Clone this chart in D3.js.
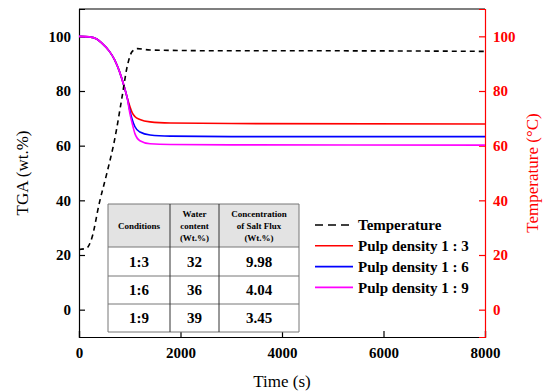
<!DOCTYPE html>
<html>
<head>
<meta charset="utf-8">
<script src="https://cdn.jsdelivr.net/npm/d3@7"></script>
<style>
  body { margin: 0; background: #fff; }
  svg { display: block; }
  svg text { font-family: "Liberation Serif", "Times New Roman", serif; }
</style>
</head>
<body>
<svg id="chart"></svg>
<script>
const width = 543, height = 392;
const margin = {top: 9, right: 58, bottom: 55, left: 79};

// temperature profile (time s, °C)
const tempTime = [0, 150, 250, 400, 550, 700, 850, 950, 1050, 1150, 1400, 3000, 5000, 8000];
const tempVal  = [22, 22.5, 26, 39, 50, 62, 78, 89, 94.5, 95.5, 95, 94.7, 94.7, 94.5];

// TGA curves (time s, wt.%)
const tgaTime = [0, 200, 350, 450, 600, 700, 800, 900, 950, 1000, 1050, 1100, 1200, 1400, 1800, 3000, 8000];
const tga13 = [100, 99.8, 99, 97.5, 94.5, 91.5, 87, 81, 77.5, 74.5, 72, 70.7, 69.6, 68.7, 68.3, 68.1, 67.9];
const tga16 = [100, 99.8, 99, 97.5, 94.5, 91.5, 87, 81, 77.5, 73, 69.5, 67, 65, 63.9, 63.5, 63.3, 63.3];
const tga19 = [100, 99.8, 99, 97.5, 94.5, 91.5, 87, 81, 77.5, 72, 68, 64.5, 61.8, 60.7, 60.4, 60.3, 60.2];

const xTicks = [0, 2000, 4000, 6000, 8000];
const yTicks = [0, 20, 40, 60, 80, 100];

const legendNames = ["Temperature", "Pulp density 1 : 3", "Pulp density 1 : 6", "Pulp density 1 : 9"];
const legendColors = ["#000000", "#ff0000", "#0000ff", "#ff00ff"];

const tableHead = [["Conditions"], ["Water", "content", "(Wt.%)"], ["Concentration", "of Salt Flux", "(Wt.%)"]];
const tableRows = [["1:3", "32", "9.98"], ["1:6", "36", "4.04"], ["1:9", "39", "3.45"]];

const svg = d3.select("#chart").attr("width", width).attr("height", height);
const iw = width - margin.left - margin.right;
const ih = height - margin.top - margin.bottom;

const x = d3.scaleLinear().domain([0, 8000]).range([margin.left, margin.left + iw]);
const y = d3.scaleLinear().domain([-10, 110]).range([margin.top + ih, margin.top]);
const yR = d3.scaleLinear().domain([-10, 110]).range([margin.top + ih, margin.top]);

// frame top line
svg.append("line")
  .attr("x1", x(0)).attr("x2", x(8000))
  .attr("y1", margin.top).attr("y2", margin.top)
  .attr("stroke", "#000").attr("stroke-width", 1.2);

// axes
const xAxis = svg.append("g")
  .attr("transform", `translate(0,${margin.top + ih})`)
  .call(d3.axisBottom(x).tickValues(xTicks).tickFormat(d3.format("d")).tickSize(-6).tickPadding(10));
const yAxis = svg.append("g")
  .attr("transform", `translate(${margin.left},0)`)
  .call(d3.axisLeft(y).tickValues(yTicks).tickSize(-6).tickPadding(8));
const yAxisR = svg.append("g")
  .attr("transform", `translate(${margin.left + iw},0)`)
  .call(d3.axisRight(yR).tickValues(yTicks).tickSize(-6).tickPadding(8));

[xAxis, yAxis].forEach(g => {
  g.selectAll("path, line").attr("stroke", "#000").attr("stroke-width", 1.2);
  g.selectAll("text").attr("font-size", 15).attr("font-weight", "bold").attr("fill", "#000");
});
yAxisR.selectAll("path, line").attr("stroke", "#ff0000").attr("stroke-width", 1.2);
yAxisR.selectAll("text").attr("font-size", 15).attr("font-weight", "bold").attr("fill", "#ff0000");

// axis titles
svg.append("text")
  .attr("transform", `translate(22,${margin.top + ih / 2}) rotate(-90)`)
  .attr("text-anchor", "middle").attr("dy", "0.35em")
  .attr("font-size", 17).text("TGA (wt.%)");
svg.append("text")
  .attr("x", margin.left + iw / 2).attr("y", 387)
  .attr("text-anchor", "middle").attr("font-size", 17).text("Time (s)");
svg.append("text")
  .attr("transform", `translate(532,${margin.top + ih / 2}) rotate(-90)`)
  .attr("text-anchor", "middle").attr("dy", "0.35em")
  .attr("font-size", 17).attr("fill", "#ff0000").text("Temperature (°C)");

// curves
const line = d3.line().x(d => x(d[0])).y(d => y(d[1])).curve(d3.curveMonotoneX);
const lineR = d3.line().x(d => x(d[0])).y(d => yR(d[1])).curve(d3.curveMonotoneX);

const series = [
  {v: tga13, c: legendColors[1]},
  {v: tga16, c: legendColors[2]},
  {v: tga19, c: legendColors[3]}
];
series.forEach(s => {
  svg.append("path")
    .datum(tgaTime.map((t, i) => [t, s.v[i]]))
    .attr("d", line).attr("fill", "none")
    .attr("stroke", s.c).attr("stroke-width", 1.6);
});

// table
const colX = [108, 170, 219, 299];
const rowY = [204, 247, 276, 304, 332];
const tbl = svg.append("g");
tbl.append("rect")
  .attr("x", colX[0]).attr("y", rowY[0])
  .attr("width", colX[3] - colX[0]).attr("height", rowY[1] - rowY[0])
  .attr("fill", "#e3e3e3");
tbl.append("rect")
  .attr("x", colX[0]).attr("y", rowY[1])
  .attr("width", colX[3] - colX[0]).attr("height", rowY[4] - rowY[1])
  .attr("fill", "#fff");
rowY.forEach(ry => {
  tbl.append("line").attr("x1", colX[0]).attr("x2", colX[3])
    .attr("y1", ry).attr("y2", ry).attr("stroke", "#777").attr("stroke-width", 1);
});
colX.forEach((cx, i) => {
  tbl.append("line").attr("x1", cx).attr("x2", cx)
    .attr("y1", rowY[0]).attr("y2", rowY[4])
    .attr("stroke", (i === 0 || i === 3) ? "#777" : "#333").attr("stroke-width", 1);
});
tableHead.forEach((lines, i) => {
  const cx = (colX[i] + colX[i + 1]) / 2;
  const cy = (rowY[0] + rowY[1]) / 2;
  lines.forEach((l, j) => {
    tbl.append("text")
      .attr("x", cx).attr("y", cy + (j - (lines.length - 1) / 2) * 12)
      .attr("dy", "0.35em").attr("text-anchor", "middle")
      .attr("font-size", 9).attr("font-weight", "bold").text(l);
  });
});
tableRows.forEach((row, r) => {
  row.forEach((cell, i) => {
    tbl.append("text")
      .attr("x", (colX[i] + colX[i + 1]) / 2)
      .attr("y", (rowY[r + 1] + rowY[r + 2]) / 2)
      .attr("dy", "0.35em").attr("text-anchor", "middle")
      .attr("font-size", 15).attr("font-weight", "bold").text(cell);
  });
});

// temperature curve (drawn on right axis scale)
svg.append("path")
  .datum(tempTime.map((t, i) => [t, tempVal[i]]))
  .attr("d", lineR).attr("fill", "none")
  .attr("stroke", "#000").attr("stroke-width", 1.6)
  .attr("stroke-dasharray", "5,4");

// legend
const lg = svg.append("g");
legendNames.forEach((name, i) => {
  const ly = 225 + i * 20.8;
  lg.append("line")
    .attr("x1", 315).attr("x2", 353).attr("y1", ly).attr("y2", ly)
    .attr("stroke", legendColors[i]).attr("stroke-width", 1.6)
    .attr("stroke-dasharray", i === 0 ? "8,5" : null);
  lg.append("text")
    .attr("x", 358).attr("y", ly).attr("dy", "0.35em")
    .attr("font-size", 15).attr("font-weight", "bold").text(name);
});
</script>
</body>
</html>
